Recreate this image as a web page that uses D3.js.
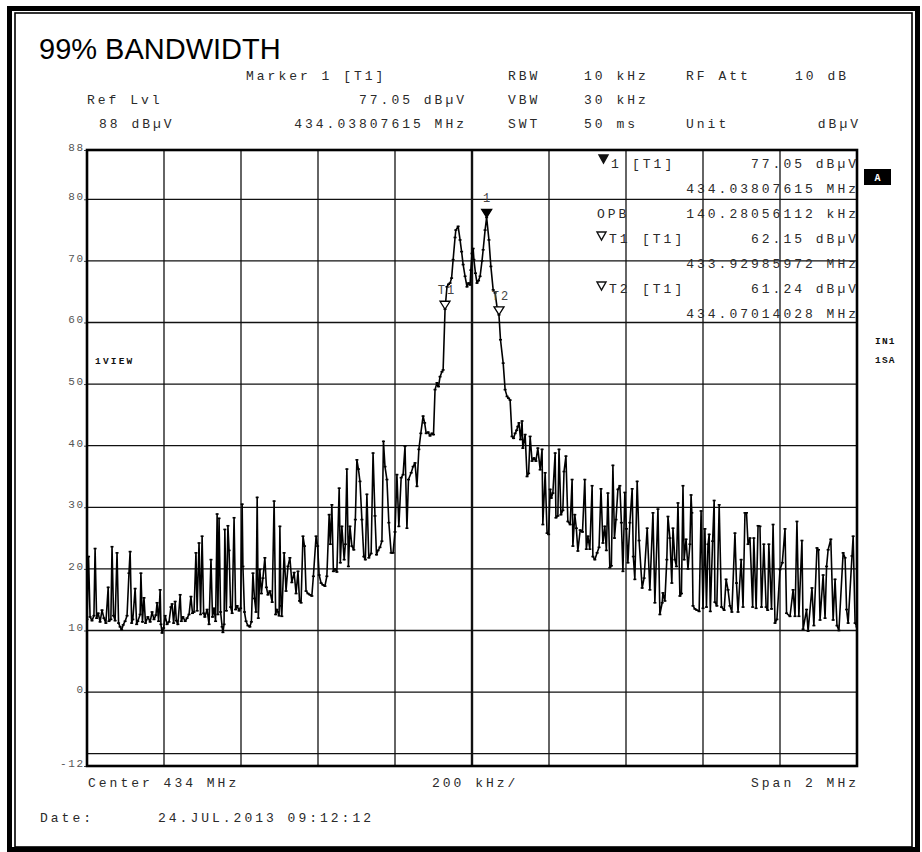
<!DOCTYPE html>
<html>
<head>
<meta charset="utf-8">
<script src="https://cdn.jsdelivr.net/npm/d3@7"></script>
<style>
  html, body { margin: 0; padding: 0; background: #fff; }
  svg { display: block; }
</style>
</head>
<body>
<svg id="chart" width="922" height="852"></svg>
<script>
// ---- Sweep trace: [kHz above 433 MHz, level dBµV] ----
const trace = [
  [0,11.8],[4,22.0],[8,12.2],[13,11.6],[18,12.4],[21,23.3],[25,12.0],[29,12.8],[34,11.4],[39,13.3],[44,12.0],[49,11.2],
  [55,17.0],[57,11.5],[62,11.8],[65,23.6],[69,12.4],[73,11.6],[78,22.6],[82,11.2],[86,10.6],[90,10.1],[94,10.9],[99,11.5],
  [104,12.4],[109,19.3],[112,22.8],[116,11.2],[119,11.8],[125,16.8],[129,11.0],[132,11.5],[138,12.6],[140,19.3],[144,11.4],
  [148,15.3],[152,11.2],[158,12.2],[164,11.4],[169,13.0],[174,11.8],[179,12.5],[182,14.5],[186,11.5],[190,16.6],[192,11.0],
  [195,9.6],[199,10.4],[203,12.4],[208,11.0],[213,11.4],[218,13.8],[221,14.3],[225,11.2],[229,14.7],[232,11.6],[236,11.0],
  [242,15.8],[245,11.5],[249,12.2],[255,11.5],[260,12.0],[265,12.6],[270,15.5],[274,12.8],[278,13.0],[283,22.6],[286,13.2],
  [291,24.2],[295,12.6],[299,25.3],[303,12.8],[306,12.2],[312,13.4],[317,11.0],[322,21.5],[326,12.2],[330,13.6],[334,11.5],
  [338,28.9],[340,12.6],[343,28.2],[347,13.0],[351,10.6],[353,9.7],[356,11.0],[358,26.4],[362,13.2],[366,27.0],[369,23.0],
  [373,13.8],[377,12.8],[382,28.3],[386,13.4],[390,14.0],[395,13.2],[399,13.6],[403,30.5],[405,20.4],[409,13.0],[413,11.5],
  [418,10.8],[423,10.6],[427,11.4],[431,19.3],[435,15.2],[439,13.0],[442,31.6],[445,12.0],[449,19.9],[453,16.0],[457,18.5],
  [462,21.8],[466,17.0],[470,15.8],[475,16.4],[481,14.6],[486,31.0],[490,12.6],[493,13.4],[499,12.4],[501,26.9],[504,14.0],
  [506,12.3],[512,22.6],[517,16.4],[522,20.4],[527,21.8],[532,17.8],[538,19.4],[543,16.0],[548,19.6],[552,14.8],[556,14.5],
  [561,25.3],[565,23.7],[569,16.4],[574,16.0],[579,15.8],[584,15.6],[588,18.8],[595,25.3],[599,23.7],[603,19.0],[608,17.7],
  [613,17.4],[618,17.2],[623,18.8],[629,28.8],[632,24.0],[636,30.4],[640,19.6],[644,20.0],[649,19.5],[655,33.1],[658,21.0],
  [662,26.9],[668,21.5],[671,24.0],[675,36.2],[679,20.4],[683,26.9],[688,23.7],[693,23.1],[697,28.0],[701,37.7],[705,36.2],
  [709,34.2],[714,28.0],[719,22.0],[723,21.5],[727,32.1],[732,21.8],[738,22.5],[743,38.8],[748,28.6],[752,22.3],[756,23.0],
  [761,23.5],[766,24.5],[770,40.7],[774,36.6],[779,34.5],[784,27.5],[790,22.6],[795,22.6],[800,26.0],[805,35.3],[810,26.9],
  [816,34.8],[821,35.3],[826,39.9],[831,26.6],[835,34.5],[842,35.6],[847,36.6],[852,37.2],[857,33.4],[862,39.4],[867,42.0],
  [873,44.8],[877,43.7],[881,42.0],[886,42.2],[891,41.6],[896,42.0],[900,41.8],[904,49.1],[909,50.2],[913,49.6],[917,51.2],
  [922,52.0],[925,52.3],[930,62.15],[935,65.8],[939,66.2],[943,66.4],[947,67.2],[951,70.2],[956,73.8],[958,75.0],[964,75.6],
  [969,73.4],[973,71.5],[977,69.4],[982,67.5],[987,65.8],[991,66.4],[995,66.1],[997,68.5],[1000,71.2],[1003,72.0],[1005,70.2],
  [1009,68.0],[1013,66.4],[1017,66.8],[1021,67.5],[1026,70.0],[1029,71.8],[1034,75.0],[1038,77.05],[1044,73.4],[1049,69.1],
  [1055,65.3],[1060,64.8],[1065,62.5],[1070,61.24],[1074,57.2],[1081,53.4],[1086,49.1],[1091,48.0],[1095,47.7],[1099,47.4],
  [1104,41.5],[1108,41.2],[1112,42.0],[1116,42.5],[1119,43.1],[1122,43.7],[1126,41.0],[1130,44.0],[1132,39.6],[1138,41.8],
  [1143,35.0],[1147,35.5],[1151,41.5],[1156,37.5],[1161,38.0],[1166,37.5],[1171,39.6],[1177,36.1],[1182,39.4],[1184,27.2],
  [1190,35.6],[1195,25.8],[1199,25.6],[1203,32.9],[1206,31.5],[1210,32.3],[1216,38.8],[1218,28.3],[1223,28.6],[1226,39.4],
  [1231,28.8],[1236,29.5],[1239,35.8],[1244,38.3],[1249,27.7],[1255,27.2],[1260,34.5],[1262,23.7],[1267,28.8],[1271,26.6],
  [1275,22.9],[1281,26.3],[1287,26.0],[1293,34.5],[1297,23.2],[1301,25.3],[1306,23.2],[1312,33.5],[1314,22.0],[1319,21.5],
  [1325,22.6],[1330,23.5],[1335,33.0],[1340,24.2],[1345,26.9],[1349,23.0],[1353,32.3],[1358,20.2],[1362,20.5],[1366,36.8],
  [1370,25.0],[1374,28.0],[1379,32.9],[1384,33.5],[1388,27.5],[1392,19.6],[1397,32.4],[1401,26.5],[1405,21.0],[1410,27.5],
  [1416,33.0],[1419,22.0],[1423,18.3],[1429,34.2],[1434,24.6],[1442,16.9],[1447,18.5],[1455,26.6],[1462,16.6],[1470,29.1],
  [1475,14.5],[1483,29.7],[1488,12.6],[1494,14.5],[1496,16.1],[1501,14.8],[1506,21.5],[1509,28.5],[1514,25.0],[1519,17.7],
  [1522,26.6],[1527,21.5],[1531,20.4],[1535,30.7],[1540,15.6],[1544,16.0],[1548,33.5],[1551,21.5],[1556,24.8],[1561,20.0],
  [1566,24.0],[1569,32.0],[1571,29.1],[1574,14.0],[1579,13.5],[1584,13.3],[1590,13.1],[1595,29.4],[1600,13.6],[1605,26.5],
  [1609,13.8],[1613,24.0],[1616,25.6],[1619,13.1],[1625,24.5],[1629,31.1],[1631,14.6],[1636,14.0],[1642,30.4],[1648,13.8],
  [1655,13.3],[1660,18.3],[1665,16.6],[1670,14.0],[1675,13.0],[1683,25.8],[1687,17.7],[1691,13.0],[1699,21.5],[1704,13.8],
  [1709,29.1],[1713,29.1],[1717,24.0],[1722,25.0],[1729,13.8],[1732,25.0],[1738,13.6],[1743,27.0],[1748,26.9],[1752,13.8],
  [1758,24.0],[1764,13.8],[1768,13.3],[1771,24.0],[1778,13.5],[1782,27.2],[1787,11.2],[1792,11.8],[1800,19.9],[1806,21.0],
  [1813,26.5],[1817,12.8],[1826,12.3],[1834,16.6],[1839,12.3],[1844,27.7],[1849,12.3],[1857,24.6],[1860,10.2],[1869,13.4],
  [1873,9.9],[1883,16.9],[1888,10.8],[1896,23.4],[1900,23.1],[1904,11.7],[1912,19.0],[1917,12.0],[1921,20.4],[1925,23.1],
  [1932,24.8],[1938,11.7],[1943,18.3],[1948,10.8],[1953,10.0],[1964,22.6],[1969,21.8],[1973,13.4],[1977,11.2],[1987,22.1],
  [1990,25.3],[1995,11.2],[2000,10.6]
];

// ---- Axes ----
const spanKHz = [0, 2000];              // 433 MHz .. 435 MHz
const divKHz = 200;
const levelRange = [-12, 88];           // dBµV, bottom .. ref level
const gridLevels = [80, 70, 60, 50, 40, 30, 20, 10, 0, -10];
const levelLabels = [88, 80, 70, 60, 50, 40, 30, 20, 10, 0, -12];

// ---- Markers ----
const markerIds    = ["1", "T1", "T2"];
const markerKHz    = [1038.07615, 929.85972, 1070.14028];
const markerLevels = [77.05, 62.15, 61.24];
const markerFilled = [true, false, false];

// ---- Text ----
const titleText = "99% BANDWIDTH";
const headerLeft  = ["Ref Lvl", "88 dBµV"];
const headerMarker = ["Marker 1 [T1]", "77.05 dBµV", "434.03807615 MHz"];
const headerKeys  = ["RBW", "VBW", "SWT"];
const headerVals  = ["10 kHz", "30 kHz", "50 ms"];
const headerKeys2 = ["RF Att", "", "Unit"];
const headerVals2 = ["10 dB", "", "dBµV"];
const tableLabels = ["1", "[T1]", "OPB", "T1", "[T1]", "T2", "[T1]"];
const tableValues = ["77.05 dBµV", "434.03807615 MHz", "140.28056112 kHz",
                     "62.15 dBµV", "433.92985972 MHz", "61.24 dBµV", "434.07014028 MHz"];
const footer = ["Center 434 MHz", "200 kHz/", "Span 2 MHz"];
const dateText = ["Date:", "24.JUL.2013  09:12:12"];
const sideText = ["A", "IN1", "1SA", "1VIEW"];

// ---------------------------------------------------------------
const svg = d3.select("#chart");
const W = 922, H = 852;
const plot = { left: 87, right: 857, top: 150, bottom: 766 };

const x = d3.scaleLinear().domain(spanKHz).range([plot.left, plot.right]);
const y = d3.scaleLinear().domain(levelRange).range([plot.bottom, plot.top]);

const MONO = "'Liberation Mono', 'DejaVu Sans Mono', monospace";
const INK = "#111";

// monospace text with wide tracking, anchored at start, middle or end
function mono(g, str, px, py, opt = {}) {
  const size = opt.size || 13, ls = opt.ls === undefined ? 3 : opt.ls;
  const w = str.length * size * 0.6 + (str.length - 1) * ls;
  const x0 = opt.anchor === "end" ? px - w : opt.anchor === "middle" ? px - w / 2 : px;
  return g.append("text")
    .attr("x", x0).attr("y", py)
    .attr("font-family", MONO)
    .attr("font-size", size)
    .attr("font-weight", opt.bold ? "bold" : "normal")
    .attr("letter-spacing", ls)
    .attr("fill", opt.fill || "#2a2a2a")
    .text(str);
}

// page background + double frame
svg.append("rect").attr("width", W).attr("height", H).attr("fill", "#fff");
svg.append("rect").attr("x", 9.5).attr("y", 8.5).attr("width", 908).attr("height", 841)
  .attr("fill", "none").attr("stroke", "#000").attr("stroke-width", 5);
svg.append("rect").attr("x", 15).attr("y", 13).attr("width", 897).attr("height", 834)
  .attr("fill", "none").attr("stroke", "#000").attr("stroke-width", 1.6);

// title
svg.append("text").attr("x", 39).attr("y", 59)
  .attr("font-family", "'Liberation Sans', Arial, sans-serif")
  .attr("font-size", 29).attr("fill", "#000").text(titleText);

// header block
const hdr = svg.append("g");
const rowY = [80, 104, 128];
mono(hdr, headerMarker[0], 246, rowY[0]);
mono(hdr, headerLeft[0], 87, rowY[1]);
mono(hdr, headerLeft[1], 99, rowY[2]);
mono(hdr, headerMarker[1], 464, rowY[1], { anchor: "end" });
mono(hdr, headerMarker[2], 464, rowY[2], { anchor: "end" });
headerKeys.forEach((k, i) => mono(hdr, k, 508, rowY[i]));
headerVals.forEach((v, i) => mono(hdr, v, 584, rowY[i]));
headerKeys2.forEach((k, i) => { if (k) mono(hdr, k, 686, rowY[i]); });
mono(hdr, headerVals2[0], 795, rowY[0]);
mono(hdr, headerVals2[2], 858, rowY[2], { anchor: "end" });

// grid
const grid = svg.append("g");
const vTicks = d3.range(spanKHz[0] + divKHz, spanKHz[1], divKHz);
grid.selectAll("line.v").data(vTicks).join("line")
  .attr("x1", d => x(d)).attr("x2", d => x(d))
  .attr("y1", plot.top).attr("y2", plot.bottom)
  .attr("stroke", INK)
  .attr("stroke-width", d => d === 1000 ? 2.4 : 1.3);
grid.selectAll("line.h").data(gridLevels).join("line")
  .attr("x1", plot.left).attr("x2", plot.right)
  .attr("y1", d => y(d)).attr("y2", d => y(d))
  .attr("stroke", INK).attr("stroke-width", 1.3);

// level labels
const yAxis = d3.axisLeft(y).tickValues(levelLabels).tickSize(3).tickFormat(d3.format("d"));
const ya = svg.append("g").attr("transform", `translate(${plot.left},0)`).call(yAxis);
ya.select(".domain").remove();
ya.selectAll(".tick line").attr("stroke", "#444").attr("stroke-width", 1);
ya.selectAll(".tick text").remove();
levelLabels.forEach(v => mono(svg, String(v), 83, y(v) + 1, { anchor: "end", size: 11, ls: 1.6, fill: "#555" }));

// trace (clipped to the graticule)
svg.append("clipPath").attr("id", "plotClip").append("rect")
  .attr("x", plot.left).attr("y", plot.top)
  .attr("width", plot.right - plot.left).attr("height", plot.bottom - plot.top);
const tr = svg.append("g").attr("clip-path", "url(#plotClip)");
const line = d3.line().x(d => x(d[0])).y(d => y(d[1]));
tr.append("path").datum(trace).attr("d", line)
  .attr("fill", "none").attr("stroke", "#000").attr("stroke-width", 1.6)
  .attr("stroke-linejoin", "round");
tr.selectAll("rect.pt").data(trace).join("rect")
  .attr("x", d => x(d[0]) - 1.5).attr("y", d => y(d[1]) - 0.8)
  .attr("width", 3).attr("height", 1.6).attr("fill", "#000");

// plot frame
svg.append("rect")
  .attr("x", plot.left).attr("y", plot.top)
  .attr("width", plot.right - plot.left).attr("height", plot.bottom - plot.top)
  .attr("fill", "none").attr("stroke", "#000").attr("stroke-width", 2.6);

// markers on the trace
const mk = svg.append("g");
markerIds.forEach((id, i) => {
  const px = x(markerKHz[i]), py = y(markerLevels[i]);
  const tri = d3.path();
  tri.moveTo(px, py); tri.lineTo(px - 5, py - 8); tri.lineTo(px + 5, py - 8); tri.closePath();
  mk.append("path").attr("d", tri.toString())
    .attr("fill", markerFilled[i] ? "#000" : "#fff")
    .attr("stroke", "#000").attr("stroke-width", 1.3);
  mono(mk, id, px + (id.length > 1 ? 1 : 0), py - 15, { anchor: "middle", size: 12, ls: 2, fill: "#444" });
});

// marker readout table
const tb = svg.append("g");
const tableY = [168, 193, 218, 243, 268, 293, 318];
function triangleGlyph(px, py, filled) {
  const p = d3.path();
  p.moveTo(px, py); p.lineTo(px + 9, py); p.lineTo(px + 4.5, py + 8); p.closePath();
  tb.append("path").attr("d", p.toString())
    .attr("fill", filled ? "#111" : "none").attr("stroke", "#111").attr("stroke-width", 1.4);
}
triangleGlyph(599, 155, true);
mono(tb, tableLabels[0], 611, tableY[0]);
mono(tb, tableLabels[1], 632, tableY[0]);
mono(tb, tableLabels[2], 597, tableY[2]);
triangleGlyph(597, 232, false);
mono(tb, tableLabels[3], 609, tableY[3]);
mono(tb, tableLabels[4], 642, tableY[3]);
triangleGlyph(597, 282, false);
mono(tb, tableLabels[5], 609, tableY[5]);
mono(tb, tableLabels[6], 642, tableY[5]);
tableValues.forEach((v, i) => mono(tb, v, 856, tableY[i], { anchor: "end" }));

// side annotations
svg.append("rect").attr("x", 864).attr("y", 169).attr("width", 27).attr("height", 16).attr("fill", "#000");
mono(svg, sideText[0], 877.5, 181, { anchor: "middle", size: 10, ls: 0, bold: true, fill: "#fff" });
mono(svg, sideText[1], 875, 344, { size: 9.5, ls: 1.2, bold: true, fill: "#111" });
mono(svg, sideText[2], 875, 363, { size: 9.5, ls: 1.2, bold: true, fill: "#111" });
mono(svg, sideText[3], 95, 364, { size: 9.5, ls: 2.2, bold: true, fill: "#111" });

// footer
const ft = svg.append("g");
mono(ft, footer[0], 88, 787);
mono(ft, footer[1], 432, 787);
mono(ft, footer[2], 856, 787, { anchor: "end" });
mono(ft, dateText[0], 40, 822);
mono(ft, dateText[1], 158, 822);
</script>
</body>
</html>
